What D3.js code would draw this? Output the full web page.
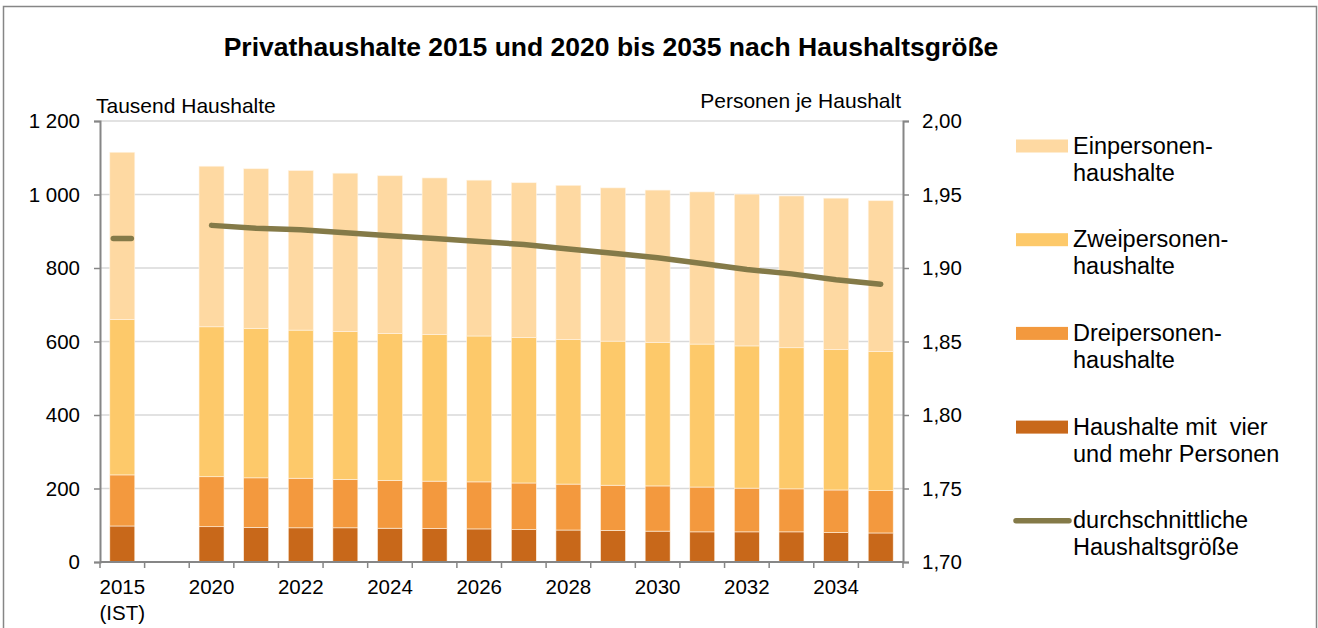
<!DOCTYPE html>
<html>
<head>
<meta charset="utf-8">
<script src="https://cdn.jsdelivr.net/npm/d3@7"></script>
<style>
  body { margin: 0; background: #fff; }
  text { font-family: "Liberation Sans", Arial, sans-serif; fill: #000; }
</style>
</head>
<body>
<div id="chart-area"></div>
<script>
// data (Tausend Haushalte / Personen je Haushalt)
var years = ["2015", "gap", "2020", "2021", "2022", "2023", "2024", "2025", "2026", "2027",
             "2028", "2029", "2030", "2031", "2032", "2033", "2034", "2035"];
var tickLabels = ["2015|(IST)", "", "2020", "", "2022", "", "2024", "", "2026", "",
                  "2028", "", "2030", "", "2032", "", "2034", ""];
var vier = [98, null, 96, 94, 93, 93, 92, 91, 90, 88, 87, 86, 84, 82, 82, 82, 80, 79];
var drei = [139, null, 136, 135, 135, 132, 130, 129, 128, 127, 125, 123, 123, 122, 119, 117, 116, 115];
var zwei = [423, null, 408, 407, 403, 402, 400, 399, 397, 396, 394, 392, 390, 389, 387, 384, 382, 379];
var ein  = [455, null, 437, 434, 434, 431, 429, 426, 424, 421, 419, 417, 415, 414, 413, 413, 412, 410];
var groesse = [1.920, null, 1.929, 1.927, 1.926, 1.924, 1.922, 1.920, 1.918, 1.916,
               1.913, 1.910, 1.907, 1.903, 1.899, 1.896, 1.892, 1.889];
var leftTicks = [0, 200, 400, 600, 800, 1000, 1200];
var rightTicks = [1.70, 1.75, 1.80, 1.85, 1.90, 1.95, 2.00];

var seriesNames = ["Haushalte mit  vier|und mehr Personen", "Dreipersonen-|haushalte",
                   "Zweipersonen-|haushalte", "Einpersonen-|haushalte"];
var colors = ["#c8681a", "#f3993e", "#fdc96a", "#fed9a2"];
var lineColor = "#847a48";

var svg_width = 1318;
var svg_height = 628;
var pLeft = 100, pRight = 903, pTop = 121, pBottom = 562;

var svg = d3.select("#chart-area").append("svg")
    .attr("width", svg_width)
    .attr("height", svg_height);

// frame
svg.append("rect")
    .attr("x", 3.5).attr("y", 6.5)
    .attr("width", 1313).attr("height", 640)
    .attr("fill", "none").attr("stroke", "#868686").attr("stroke-width", 1.5);

svg.append("text")
    .attr("x", 611).attr("y", 56)
    .attr("text-anchor", "middle")
    .style("font-size", "26.5px").style("font-weight", "bold")
    .text("Privathaushalte 2015 und 2020 bis 2035 nach Haushaltsgröße");

var x = d3.scaleBand()
    .domain(years)
    .range([pLeft, pRight])
    .paddingInner(0.44)
    .paddingOuter(0.22);

var y = d3.scaleLinear().domain([0, 1200]).range([pBottom, pTop]);
var y2 = d3.scaleLinear().domain([1.70, 2.00]).range([pBottom, pTop]);

// gridlines
svg.append("g").selectAll("line")
    .data(leftTicks.slice(1))
    .enter().append("line")
    .attr("x1", pLeft).attr("x2", pRight)
    .attr("y1", function(d) { return y(d); })
    .attr("y2", function(d) { return y(d); })
    .attr("stroke", "#d9d9d9").attr("stroke-width", 1.5);

// stacked bars
var table = years.map(function(yr, i) {
    return { year: yr, vier: vier[i], drei: drei[i], zwei: zwei[i], ein: ein[i] };
}).filter(function(d) { return d.vier != null; });

var stack = d3.stack().keys(["vier", "drei", "zwei", "ein"]);
var layers = stack(table);

svg.append("g").selectAll("g")
    .data(layers)
    .enter().append("g")
    .attr("fill", function(d, i) { return colors[i]; })
    .selectAll("rect")
    .data(function(d) { return d; })
    .enter().append("rect")
    .attr("x", function(d) { return x(d.data.year); })
    .attr("width", x.bandwidth())
    .attr("y", function(d) { return y(d[1]); })
    .attr("height", function(d) { return y(d[0]) - y(d[1]); })
    .attr("stroke", "#fff4e4").attr("stroke-width", 0.6);

// average household size line
var lineData = years.map(function(yr, i) { return { year: yr, v: groesse[i] }; });
var line = d3.line()
    .defined(function(d, i) { return d.v != null && i >= 2; })
    .x(function(d) { return x(d.year) + x.bandwidth() / 2; })
    .y(function(d) { return y2(d.v); });

svg.append("path")
    .datum(lineData)
    .attr("d", line)
    .attr("fill", "none")
    .attr("stroke", lineColor).attr("stroke-width", 5.5)
    .attr("stroke-linecap", "round");

// 2015 value as short dash
svg.append("line")
    .attr("x1", x("2015") + x.bandwidth() / 2 - 9)
    .attr("x2", x("2015") + x.bandwidth() / 2 + 9)
    .attr("y1", y2(groesse[0])).attr("y2", y2(groesse[0]))
    .attr("stroke", lineColor).attr("stroke-width", 5.5).attr("stroke-linecap", "round");

// axes
var fmt = function(d) { return d3.format(",")(d).replace(",", " "); };
var yAxis = d3.axisLeft(y).tickValues(leftTicks).tickSize(6).tickPadding(14).tickFormat(fmt);
var y2Axis = d3.axisRight(y2).tickValues(rightTicks).tickSize(6).tickPadding(13)
    .tickFormat(function(d) { return d3.format(".2f")(d).replace(".", ","); });

var gy = svg.append("g").attr("transform", "translate(" + pLeft + ",0)").call(yAxis);
var gy2 = svg.append("g").attr("transform", "translate(" + pRight + ",0)").call(y2Axis);
[gy, gy2].forEach(function(g) {
    g.select(".domain").attr("stroke", "#868686").attr("stroke-width", 2);
    g.selectAll(".tick line").attr("stroke", "#868686").attr("stroke-width", 1.5);
    g.selectAll(".tick text").style("font-size", "20.5px")
        .style("font-family", "Liberation Sans, Arial, sans-serif").attr("fill", "#000");
});

// x axis
var xa = svg.append("g");
xa.append("line")
    .attr("x1", pLeft).attr("x2", pRight)
    .attr("y1", pBottom).attr("y2", pBottom)
    .attr("stroke", "#868686").attr("stroke-width", 2);
var step = x.step();
xa.selectAll(".xt")
    .data(d3.range(years.length + 1))
    .enter().append("line")
    .attr("x1", function(i) { return pLeft + i * step; })
    .attr("x2", function(i) { return pLeft + i * step; })
    .attr("y1", pBottom).attr("y2", pBottom + 6)
    .attr("stroke", "#868686").attr("stroke-width", 1.5);
xa.selectAll(".xl")
    .data(years)
    .enter().append("text")
    .attr("text-anchor", "middle")
    .style("font-size", "20.5px")
    .attr("transform", function(d) { return "translate(" + (x(d) + x.bandwidth() / 2) + "," + (pBottom + 32) + ")"; })
    .each(function(d, i) {
        var parts = tickLabels[i].split("|");
        var t = d3.select(this);
        parts.forEach(function(p, k) {
            t.append("tspan").attr("x", 0).attr("dy", k === 0 ? 0 : 26).text(p);
        });
    });

// axis titles
svg.append("text").attr("x", 96).attr("y", 113).style("font-size", "21px").text("Tausend Haushalte");
svg.append("text").attr("x", 901).attr("y", 108).attr("text-anchor", "end")
    .style("font-size", "21px").text("Personen je Haushalt");

// legend
var legendItems = [
    { name: seriesNames[3], color: colors[3], type: "rect" },
    { name: seriesNames[2], color: colors[2], type: "rect" },
    { name: seriesNames[1], color: colors[1], type: "rect" },
    { name: seriesNames[0], color: colors[0], type: "rect" },
    { name: "durchschnittliche|Haushaltsgröße", color: lineColor, type: "line" }
];
var lg = svg.append("g").selectAll("g")
    .data(legendItems)
    .enter().append("g")
    .attr("transform", function(d, i) { return "translate(1016," + (146 + i * 93.7) + ")"; });
lg.each(function(d) {
    var g = d3.select(this);
    if (d.type === "rect") {
        g.append("rect").attr("x", 0).attr("y", -6.5).attr("width", 52).attr("height", 13).attr("fill", d.color);
    } else {
        g.append("line").attr("x1", 0).attr("x2", 53).attr("y1", 0).attr("y2", 0)
            .attr("stroke", d.color).attr("stroke-width", 5.5).attr("stroke-linecap", "round");
    }
    var t = g.append("text").attr("x", 57).attr("y", 7.5)
        .style("font-size", "23.5px").style("white-space", "pre");
    d.name.split("|").forEach(function(p, k) {
        t.append("tspan").attr("x", 57).attr("dy", k === 0 ? 0 : 27).text(p);
    });
});
</script>
</body>
</html>
